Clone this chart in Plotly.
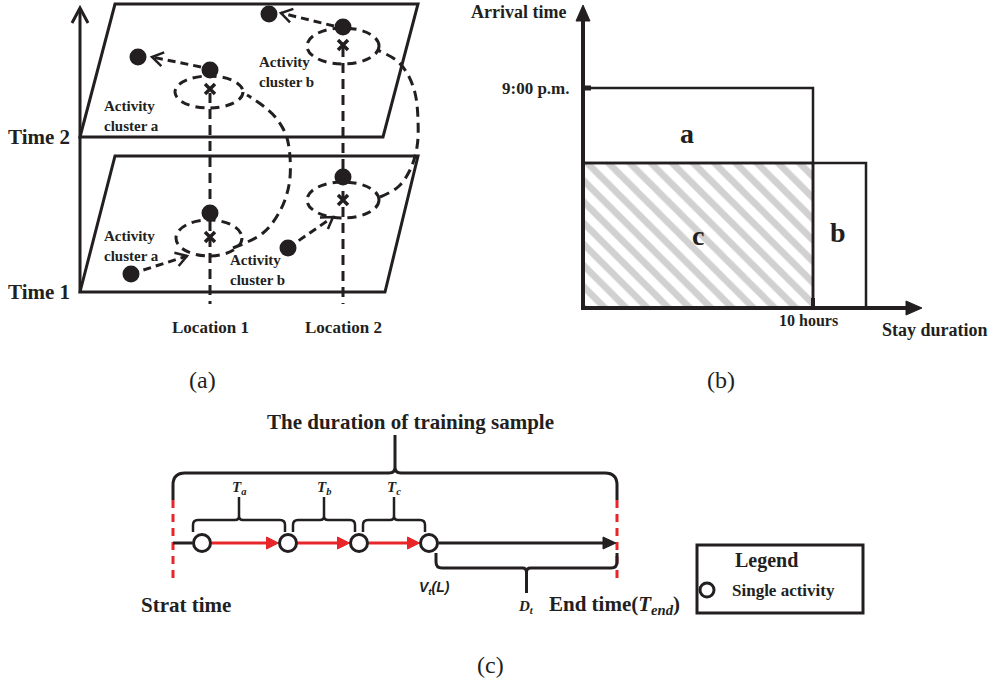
import math
import plotly.graph_objects as go

W, H = 995, 687
SERIF = "Liberation Serif"
SANS = "Liberation Sans"
INK = "#231f20"
RED = "#e8262a"
GREY = "#a3a3a3"

# ---------------- Panel (a): activity clusters on two time planes ----------------
time_labels = ["Time 1", "Time 2"]
plane_bottom_y = [292, 137]
plane_top_y = [156, 4]
plane_bottom_left_x = [80, 80]
plane_top_left_x = [115, 115]
plane_bottom_right_x = [385, 383]
plane_top_right_x = [418, 418]
time_axis_x, time_axis_y0, time_axis_y1 = 80, 292, 8

location_labels = ["Location 1", "Location 2"]
location_x = [210, 343]
location_top_y = [93, 47]
location_bottom_y = 304

# clusters: lower a, lower b, upper a, upper b
cluster_names = ["Activity<br>cluster a", "Activity<br>cluster b", "Activity<br>cluster a", "Activity<br>cluster b"]
cluster_label_x = [102, 228, 102, 257]
cluster_label_y = [246, 270, 116, 72]
cluster_cx = [209, 343, 209, 343]
cluster_cy = [238, 200, 92, 46]
cluster_rx = [33, 36, 34, 36]
cluster_ry = [18, 18, 16, 18]
center_x = [210, 343, 210, 343]
center_y = [237, 200, 89, 45]
member_x = [210, 343, 210, 343]
member_y = [213, 177, 70, 27]
outlier_x = [131, 288, 138, 269]
outlier_y = [274, 248, 57, 14]
move_from = [(131, 274), (288, 248), (201, 67), (334, 26)]
move_to = [(187, 256), (333, 217), (152, 57), (281, 13)]
link_curves = [
    [(233, 248), (263, 233), (280, 211), (289, 185), (290, 157), (286, 135), (276, 118), (262, 105), (247, 95)],
    [(380, 197), (398, 187), (410, 170), (417, 147), (418, 120), (415, 93), (407, 73), (396, 60), (377, 50)],
]

# ---------------- Panel (b): arrival time vs stay duration ----------------
origin_x, origin_y = 583, 308
y_axis_top, x_axis_right = 5, 922
arrival_label, arrival_y = "9:00 p.m.", 88
stay_label, stay_x = "10 hours", 813
split_y = 163
region_b_right = 866
region_letters = ["a", "b", "c"]
region_letter_x = [687, 838, 698]
region_letter_y = [133, 232, 235]

# ---------------- Panel (c): training sample timeline ----------------
sample_start, sample_end = 173, 617
timeline_y = 543
activity_t = [202, 288, 359, 429]
gap_labels = ["<b><i>T<sub>a</sub></i></b>", "<b><i>T<sub>b</sub></i></b>", "<b><i>T<sub>c</sub></i></b>"]
gap_start = [193, 293, 363]
gap_end = [285, 355, 425]
dt_start = 436

fig = go.Figure()
shapes = []
annotations = []


def line(x0, y0, x1, y1, color=INK, width=3, dash="solid"):
    shapes.append(dict(type="line", xref="x", yref="y", x0=x0, y0=y0, x1=x1, y1=y1,
                       line=dict(color=color, width=width, dash=dash)))


def path(d, color=INK, width=3, dash="solid", fill=None):
    s = dict(type="path", xref="x", yref="y", path=d, line=dict(color=color, width=width, dash=dash))
    if fill:
        s["fillcolor"] = fill
    shapes.append(s)


def head(tip, tail, length, half, filled, color=INK, width=2.5):
    dx, dy = tip[0] - tail[0], tip[1] - tail[1]
    n = math.hypot(dx, dy)
    ux, uy = dx / n, dy / n
    px, py = -uy, ux
    bx, by = tip[0] - ux * length, tip[1] - uy * length
    d = f"M{bx + px * half},{by + py * half} L{tip[0]},{tip[1]} L{bx - px * half},{by - py * half}"
    if filled:
        path(d + " Z", color=color, width=1, fill=color)
    else:
        path(d, color=color, width=width)


def text(x, y, t, size, xanchor="center", family=SERIF, bold=True, align="center"):
    annotations.append(dict(x=x, y=y, xref="x", yref="y", text=(f"<b>{t}</b>" if bold else t),
                            showarrow=False, xanchor=xanchor, yanchor="middle", align=align,
                            font=dict(family=family, size=size, color=INK)))


def brace(x0, x1, y_bar, y_tip, y_end, r_end, r_mid, width=3):
    d = 1 if y_tip > y_bar else -1
    xm = (x0 + x1) / 2
    p = (f"M{x0},{y_end} L{x0},{y_bar - d * r_end} Q{x0},{y_bar} {x0 + r_end},{y_bar} "
         f"L{xm - r_mid},{y_bar} Q{xm},{y_bar} {xm},{y_bar + d * r_mid} L{xm},{y_tip} "
         f"M{xm},{y_bar + d * r_mid} Q{xm},{y_bar} {xm + r_mid},{y_bar} "
         f"L{x1 - r_end},{y_bar} Q{x1},{y_bar} {x1},{y_bar - d * r_end} L{x1},{y_end}")
    path(p, width=width)


# ===== Panel (a) =====
DASH = "10px,6px"
for i in range(2):
    path(f"M{plane_bottom_left_x[i]},{plane_bottom_y[i]} L{plane_top_left_x[i]},{plane_top_y[i]} "
         f"L{plane_top_right_x[i]},{plane_top_y[i]} L{plane_bottom_right_x[i]},{plane_bottom_y[i]} Z", width=3)
    text(72, plane_bottom_y[i], time_labels[i], 21, xanchor="right")
line(time_axis_x, time_axis_y0, time_axis_x, time_axis_y1, width=3)
head((time_axis_x, time_axis_y1), (time_axis_x, time_axis_y0), 15, 8, False, width=3)

for i in range(2):
    line(location_x[i], location_top_y[i], location_x[i], location_bottom_y, width=3, dash=DASH)
    text(location_x[i], 327, location_labels[i], 17)

for i in range(4):
    shapes.append(dict(type="circle", xref="x", yref="y",
                       x0=cluster_cx[i] - cluster_rx[i], x1=cluster_cx[i] + cluster_rx[i],
                       y0=cluster_cy[i] - cluster_ry[i], y1=cluster_cy[i] + cluster_ry[i],
                       line=dict(color=INK, width=3, dash="9px,6px")))
    a, b = move_from[i], move_to[i]
    line(a[0], a[1], b[0], b[1], width=3, dash="8px,5px")
    head(b, a, 11, 7, False, width=2.5)
    text(cluster_label_x[i], cluster_label_y[i], cluster_names[i], 15, xanchor="left", align="left")

for curve in link_curves:
    fig.add_trace(go.Scatter(x=[p[0] for p in curve], y=[p[1] for p in curve], mode="lines",
                             line=dict(color=INK, width=3, dash="10px,6px", shape="spline"),
                             hoverinfo="skip", showlegend=False))

fig.add_trace(go.Scatter(x=member_x + outlier_x, y=member_y + outlier_y, mode="markers",
                         marker=dict(size=17, color=INK), hoverinfo="skip", showlegend=False))
fig.add_trace(go.Scatter(x=center_x, y=center_y, mode="markers",
                         marker=dict(symbol="x-thin", size=10, line=dict(color=INK, width=3.5)),
                         hoverinfo="skip", showlegend=False))
text(202, 380, "(a)", 24, bold=False)

# ===== Panel (b) =====
fig.add_trace(go.Scatter(x=[origin_x, stay_x, stay_x, origin_x, origin_x],
                         y=[split_y, split_y, origin_y, origin_y, split_y],
                         mode="none", fill="toself", fillcolor="white",
                         fillpattern=dict(shape="\\", size=15, solidity=0.45, fgcolor=GREY, bgcolor="white"),
                         hoverinfo="skip", showlegend=False))
shapes.append(dict(type="rect", xref="x", yref="y", x0=origin_x, x1=stay_x, y0=arrival_y, y1=split_y,
                   line=dict(color=INK, width=2.5)))
shapes.append(dict(type="rect", xref="x", yref="y", x0=origin_x, x1=stay_x, y0=split_y, y1=origin_y,
                   line=dict(color=INK, width=2.5)))
shapes.append(dict(type="rect", xref="x", yref="y", x0=stay_x, x1=region_b_right, y0=split_y, y1=origin_y,
                   line=dict(color=INK, width=2.5)))
line(origin_x, origin_y, origin_x, y_axis_top + 12, width=4)
head((origin_x, y_axis_top), (origin_x, origin_y), 16, 7, True)
line(origin_x - 2, origin_y, x_axis_right - 12, origin_y, width=4)
head((x_axis_right, origin_y), (origin_x, origin_y), 16, 7, True)
line(origin_x, arrival_y, origin_x + 8, arrival_y, width=5)
line(stay_x, origin_y - 10, stay_x, origin_y, width=4)
text(568, 12, "Arrival time", 18, xanchor="right")
text(572, arrival_y, arrival_label, 17, xanchor="right")
text(808, 320, stay_label, 16)
text(935, 330, "Stay duration", 18)
for i in range(3):
    text(region_letter_x[i], region_letter_y[i], region_letters[i], 28)
text(721, 380, "(b)", 24, bold=False)

# ===== Panel (c) =====
line(sample_start, 500, sample_start, 582, color=RED, width=3, dash="8px,6px")
line(sample_end, 500, sample_end, 582, color=RED, width=3, dash="8px,6px")
brace(sample_start, sample_end, 473, 435, 500, 12, 6, width=3)
text((sample_start + sample_end) / 2 + 15, 422, "The duration of training sample", 21)
for i in range(3):
    brace(gap_start[i], gap_end[i], 520, 497, 532, 5, 4, width=2.5)
    annotations.append(dict(x=(gap_start[i] + gap_end[i]) / 2, y=488, xref="x", yref="y", text=gap_labels[i],
                            showarrow=False, font=dict(family=SERIF, size=15, color=INK)))
brace(dt_start, sample_end, 568, 593, 553, 6, 4, width=3)

R = 9.5
line(sample_start, timeline_y, activity_t[0] - R, timeline_y, width=3)
for i in range(3):
    x0, x1 = activity_t[i] + R, activity_t[i + 1] - R
    line(x0, timeline_y, x1 - 10, timeline_y, color=RED, width=3)
    head((x1, timeline_y), (x0, timeline_y), 12, 6, True, color=RED)
line(activity_t[3] + R, timeline_y, sample_end - 12, timeline_y, width=3)
head((sample_end - 1, timeline_y), (activity_t[3], timeline_y), 13, 6, True)
for t in activity_t:
    shapes.append(dict(type="circle", xref="x", yref="y", x0=t - R + 1, x1=t + R - 1,
                       y0=timeline_y - R + 1, y1=timeline_y + R - 1,
                       fillcolor="white", line=dict(color=INK, width=3)))

annotations.append(dict(x=434, y=588, xref="x", yref="y", text="<b><i>V<sub>t</sub>(L)</i></b>", showarrow=False,
                        font=dict(family=SANS, size=14, color=INK)))
annotations.append(dict(x=526, y=607, xref="x", yref="y", text="<b><i>D<sub>t</sub></i></b>", showarrow=False,
                        font=dict(family=SERIF, size=15, color=INK)))
annotations.append(dict(x=547, y=605, xref="x", yref="y", xanchor="left",
                        text="<b>End time(<i>T<sub>end</sub></i>)</b>", showarrow=False,
                        font=dict(family=SERIF, size=21, color=INK)))
text(186, 605, "Strat time", 21)

# legend box
shapes.append(dict(type="rect", xref="x", yref="y", x0=697, x1=863, y0=545, y1=613, line=dict(color=INK, width=3)))
text(766, 560, "Legend", 20)
shapes.append(dict(type="circle", xref="x", yref="y", x0=700, x1=714, y0=583, y1=597,
                   fillcolor="white", line=dict(color=INK, width=3)))
text(730, 590, "Single activity", 17, xanchor="left")
text(490, 665, "(c)", 24, bold=False)

for s in shapes:
    s.setdefault("layer", "above")

fig.update_layout(
    width=W, height=H, autosize=False,
    margin=dict(l=0, r=0, t=0, b=0),
    paper_bgcolor="white", plot_bgcolor="white",
    xaxis=dict(range=[0, W], visible=False, fixedrange=True),
    yaxis=dict(range=[H, 0], visible=False, fixedrange=True),
    shapes=shapes, annotations=annotations, showlegend=False,
)
fig.write_html("out.html", config={"displayModeBar": False})
